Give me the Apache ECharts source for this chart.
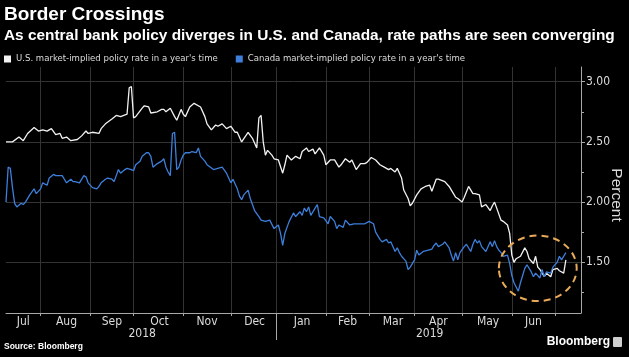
<!DOCTYPE html>
<html><head><meta charset="utf-8">
<script src="https://cdn.jsdelivr.net/npm/echarts@6/dist/echarts.min.js"></script>
<style>html,body{margin:0;padding:0;background:#000;}#c{width:629px;height:357px;}</style>
</head><body><div id="c"></div>
<script>
// ---- texts ----
const titleText = 'Border Crossings';
const subtitleText = 'As central bank policy diverges in U.S. and Canada, rate paths are seen converging';
const seriesNames = ["U.S. market-implied policy rate in a year's time", "Canada market-implied policy rate in a year's time"];
const sourceText = 'Source: Bloomberg';
const brandText = 'Bloomberg';
const yAxisName = 'Percent';

// ---- axes ----
const firstDay = '2018-07-10';   // first trading day on the axis
const lastDay = '2019-07-17';    // last trading day on the axis
const monthNames = ['Jan','Feb','Mar','Apr','May','Jun','Jul','Aug','Sep','Oct','Nov','Dec'];
const yMin = 1.079, yMax = 3.122;
const yLabelValues = [1.5, 2.0, 2.5, 3.0];
const yMinorTickValues = [1.25, 1.75, 2.25, 2.75];

// ---- data: [trading-day index from firstDay, percent] ----
const usPoints = [[0,2.50],[3,2.50],[6,2.54],[8,2.51],[10,2.57],[13,2.62],[15,2.59],[17,2.60],[19,2.59],[21,2.61],[23,2.56],[25,2.57],[26,2.53],[28,2.54],[30,2.51],[33,2.52],[35,2.55],[37,2.59],[38,2.57],[40,2.58],[43,2.57],[44,2.61],[46,2.65],[49,2.69],[51,2.72],[53,2.71],[56,2.73],[57,2.95],[58,2.96],[59,2.70],[60,2.71],[63,2.78],[64,2.80],[66,2.79],[67,2.74],[70,2.75],[72,2.77],[73,2.77],[74,2.75],[76,2.78],[78,2.71],[79,2.68],[81,2.77],[82,2.73],[83,2.71],[85,2.79],[87,2.82],[90,2.79],[92,2.71],[93,2.65],[95,2.60],[97,2.64],[98,2.63],[100,2.65],[102,2.61],[104,2.63],[106,2.58],[107,2.58],[109,2.50],[112,2.58],[114,2.53],[116,2.45],[117,2.70],[118,2.72],[119,2.50],[120,2.39],[121,2.43],[123,2.39],[124,2.36],[126,2.35],[128,2.24],[129,2.31],[130,2.39],[132,2.35],[134,2.38],[136,2.36],[137,2.42],[139,2.45],[140,2.42],[142,2.44],[143,2.40],[145,2.45],[147,2.39],[148,2.31],[150,2.35],[152,2.35],[154,2.29],[155,2.31],[157,2.36],[159,2.33],[160,2.35],[162,2.27],[164,2.32],[166,2.32],[167,2.33],[169,2.37],[171,2.35],[173,2.31],[175,2.29],[177,2.27],[178,2.28],[180,2.25],[181,2.28],[183,2.20],[184,2.10],[186,2.03],[187,1.97],[188,1.99],[190,2.06],[192,2.11],[194,2.13],[196,2.14],[197,2.09],[199,2.19],[200,2.19],[203,2.17],[205,2.13],[207,2.07],[208,2.04],[209,2.03],[211,2.00],[212,2.04],[214,2.13],[216,2.07],[217,2.07],[219,2.06],[220,1.96],[222,1.98],[224,1.93],[225,1.97],[226,2.00],[227,1.95],[229,1.85],[230,1.84],[232,1.81],[233,1.74],[234,1.56],[235,1.50],[236,1.53],[238,1.55],[240,1.62],[241,1.59],[242,1.53],[244,1.49],[245,1.55],[246,1.46],[247,1.44],[249,1.38],[250,1.41],[252,1.38],[253,1.44],[255,1.45],[256,1.43],[258,1.41],[259,1.52]];
const caPoints = [[0,2.00],[1,2.29],[2,2.28],[3,2.12],[4,1.99],[5,1.96],[7,1.99],[8,1.98],[9,2.00],[11,2.06],[13,2.11],[14,2.07],[16,2.11],[17,2.16],[19,2.14],[20,2.20],[22,2.23],[23,2.22],[25,2.22],[26,2.22],[27,2.19],[28,2.16],[30,2.19],[31,2.17],[32,2.17],[34,2.16],[36,2.22],[37,2.21],[38,2.16],[40,2.12],[42,2.11],[43,2.13],[44,2.16],[46,2.19],[47,2.20],[49,2.19],[50,2.17],[51,2.22],[52,2.27],[53,2.24],[55,2.27],[56,2.28],[58,2.27],[59,2.26],[60,2.31],[62,2.34],[63,2.38],[65,2.41],[66,2.41],[67,2.38],[68,2.29],[70,2.32],[72,2.34],[73,2.36],[74,2.29],[75,2.25],[76,2.22],[77,2.57],[78,2.58],[79,2.27],[80,2.29],[81,2.35],[82,2.39],[83,2.41],[85,2.41],[86,2.42],[88,2.41],[89,2.45],[90,2.38],[92,2.34],[93,2.31],[96,2.27],[98,2.28],[100,2.29],[102,2.24],[104,2.16],[105,2.19],[107,2.11],[108,2.05],[109,2.02],[110,2.06],[112,2.10],[113,2.03],[115,1.93],[117,1.88],[118,1.85],[120,1.84],[122,1.85],[124,1.78],[126,1.81],[127,1.74],[128,1.64],[129,1.74],[130,1.79],[131,1.84],[133,1.91],[134,1.88],[136,1.92],[137,1.89],[138,1.95],[139,1.92],[140,1.96],[141,1.89],[143,1.95],[144,1.98],[145,1.88],[147,1.87],[149,1.82],[150,1.88],[152,1.84],[153,1.78],[154,1.81],[156,1.79],[157,1.85],[159,1.81],[161,1.82],[163,1.82],[166,1.82],[168,1.84],[170,1.82],[171,1.75],[173,1.69],[174,1.67],[176,1.69],[177,1.66],[178,1.67],[180,1.59],[181,1.62],[182,1.58],[183,1.55],[185,1.51],[186,1.44],[187,1.46],[189,1.52],[190,1.60],[191,1.56],[193,1.59],[195,1.60],[197,1.61],[198,1.64],[199,1.66],[200,1.63],[202,1.65],[203,1.67],[205,1.62],[206,1.56],[207,1.51],[208,1.58],[209,1.52],[210,1.58],[212,1.63],[213,1.65],[215,1.59],[216,1.65],[217,1.69],[218,1.66],[219,1.68],[220,1.63],[222,1.59],[224,1.67],[225,1.63],[226,1.68],[227,1.63],[228,1.60],[229,1.58],[230,1.55],[232,1.56],[233,1.49],[234,1.39],[235,1.33],[237,1.26],[238,1.33],[239,1.39],[240,1.45],[241,1.48],[243,1.42],[244,1.38],[245,1.41],[247,1.37],[248,1.44],[249,1.38],[250,1.42],[252,1.41],[253,1.46],[255,1.50],[256,1.55],[257,1.52],[259,1.58]];

// highlight ellipse in data units: centre (trading-day index, percent), half width (days), half height (percent)
const highlight = [245.5, 1.45, 18.1, 0.272];

// ---- derived axis structure ----
const cats = [];
for (let d = new Date(firstDay + 'T00:00:00Z'); d <= new Date(lastDay + 'T00:00:00Z'); d.setUTCDate(d.getUTCDate() + 1)) {
  const w = d.getUTCDay();
  if (w !== 0 && w !== 6) cats.push(d.toISOString().slice(0, 10));
}
const monthStarts = [], yearStarts = [];
for (let i = 1; i < cats.length; i++) {
  if (cats[i].slice(5, 7) !== cats[i - 1].slice(5, 7)) monthStarts.push(i);
  if (cats[i].slice(0, 4) !== cats[i - 1].slice(0, 4)) yearStarts.push(i);
}
const monthStartSet = new Set(monthStarts);
const monthBounds = [0].concat(monthStarts);
const monthLabelSet = new Set();
for (let k = 0; k + 1 < monthBounds.length; k++) monthLabelSet.add(Math.round((monthBounds[k] + monthBounds[k + 1]) / 2));
const yearBounds = [0].concat(yearStarts, [cats.length - 1]);
const yearLabelSet = new Set();
for (let k = 0; k + 1 < yearBounds.length; k++) yearLabelSet.add(Math.round((yearBounds[k] + yearBounds[k + 1]) / 2));
const yearStartSet = new Set(yearStarts);

const FONT = "'Liberation Sans', Arial, sans-serif";
const NARROW = "'DejaVu Sans Condensed', 'Liberation Sans', sans-serif";
const GRID = '#333333';
const AXIS = '#a8a8a8';
const TXT = '#dcdcdc';

const chart = echarts.init(document.getElementById('c'), null, {renderer: 'canvas'});
chart.setOption({
  backgroundColor: '#000',
  animation: false,
  title: [
    {text: titleText, left: 4, top: 5, padding: 0, textStyle: {color: '#fff', fontSize: 19, fontWeight: 'bold', fontFamily: FONT}},
    {text: subtitleText, left: 4, top: 28, padding: 0, textStyle: {color: '#fff', fontSize: 15.4, fontWeight: 'bold', fontFamily: FONT}},
    {text: sourceText, left: 4, top: 342, padding: 0, textStyle: {color: '#fff', fontSize: 8.5, fontWeight: 'bold', fontFamily: FONT}},
    {text: brandText, right: 19, top: 336, padding: 0, textStyle: {color: '#fff', fontSize: 12, fontWeight: 'bold', fontFamily: FONT}}
  ],
  legend: {
    left: 4, top: 54, padding: 0, icon: 'rect', itemWidth: 7, itemHeight: 7, itemGap: 18,
    textStyle: {color: TXT, fontSize: 9.5, fontFamily: NARROW},
    data: seriesNames
  },
  grid: {left: 6, right: 48, top: 67, bottom: 44, containLabel: false, outerBoundsMode: 'none'},
  xAxis: [{
    type: 'category', data: cats, boundaryGap: false,
    axisLine: {show: true, lineStyle: {color: AXIS, width: 1}},
    axisTick: {show: true, interval: (i) => monthStartSet.has(i), length: 3, lineStyle: {color: AXIS}},
    axisLabel: {interval: (i) => monthLabelSet.has(i), formatter: (v) => monthNames[parseInt(v.slice(5, 7), 10) - 1],
      color: TXT, fontSize: 12, fontFamily: NARROW, margin: 3},
    splitLine: {show: true, interval: (i) => monthStartSet.has(i), lineStyle: {color: GRID, width: 1}}
  }, {
    type: 'category', data: cats, boundaryGap: false, position: 'bottom',
    axisLine: {show: false},
    axisTick: {show: true, interval: (i) => yearStartSet.has(i), length: 27, lineStyle: {color: AXIS}},
    axisLabel: {interval: (i) => yearLabelSet.has(i), formatter: (v) => v.slice(0, 4), color: TXT, fontSize: 12, fontFamily: NARROW, margin: 15},
    splitLine: {show: false}
  }],
  yAxis: [{
    type: 'value', position: 'right', min: yMin, max: yMax,
    axisLine: {show: true, lineStyle: {color: AXIS, width: 1}},
    axisTick: {show: true, customValues: yLabelValues, length: 4, lineStyle: {color: AXIS}},
    axisLabel: {customValues: yLabelValues, formatter: (v) => v.toFixed(2), color: TXT, fontSize: 12, fontFamily: NARROW, margin: 5},
    splitLine: {show: true, lineStyle: {color: GRID, width: 1}},
    name: yAxisName, nameLocation: 'middle', nameRotate: -90, nameGap: 27, nameMoveOverlap: false,
    nameTextStyle: {color: TXT, fontSize: 15.5, fontFamily: FONT, padding: [0, 0, 0, 10]}
  }, {
    type: 'value', position: 'right', min: yMin, max: yMax,
    axisLine: {show: false},
    axisTick: {show: true, customValues: yMinorTickValues, length: 3, lineStyle: {color: AXIS}},
    axisLabel: {show: false},
    splitLine: {show: false}
  }],
  series: [
    {name: seriesNames[0], type: 'line', data: usPoints, showSymbol: false, symbol: 'none',
      itemStyle: {color: '#f2f2f2'}, lineStyle: {color: '#f2f2f2', width: 1.3}},
    {name: seriesNames[1], type: 'line', data: caPoints, showSymbol: false, symbol: 'none',
      itemStyle: {color: '#3d7fda'}, lineStyle: {color: '#3d7fda', width: 1.3}},
    {type: 'custom', silent: true, z: 5, data: [highlight],
      renderItem: function (params, api) {
        const cx = api.value(0), cy = api.value(1), hw = api.value(2), hh = api.value(3);
        const c = api.coord([cx, cy]);
        const e = api.coord([cx + hw, cy + hh]);
        return {type: 'ellipse', shape: {cx: c[0], cy: c[1], rx: Math.abs(e[0] - c[0]), ry: Math.abs(e[1] - c[1])},
          style: {fill: 'none', stroke: '#e9aa58', lineWidth: 2, lineDash: [7, 5]}};
      }}
  ],
  graphic: [{
    type: 'rect', right: 7, top: 337, shape: {width: 9, height: 10, r: 1}, style: {fill: '#cfcfcf'}
  }]
});
</script></body></html>
